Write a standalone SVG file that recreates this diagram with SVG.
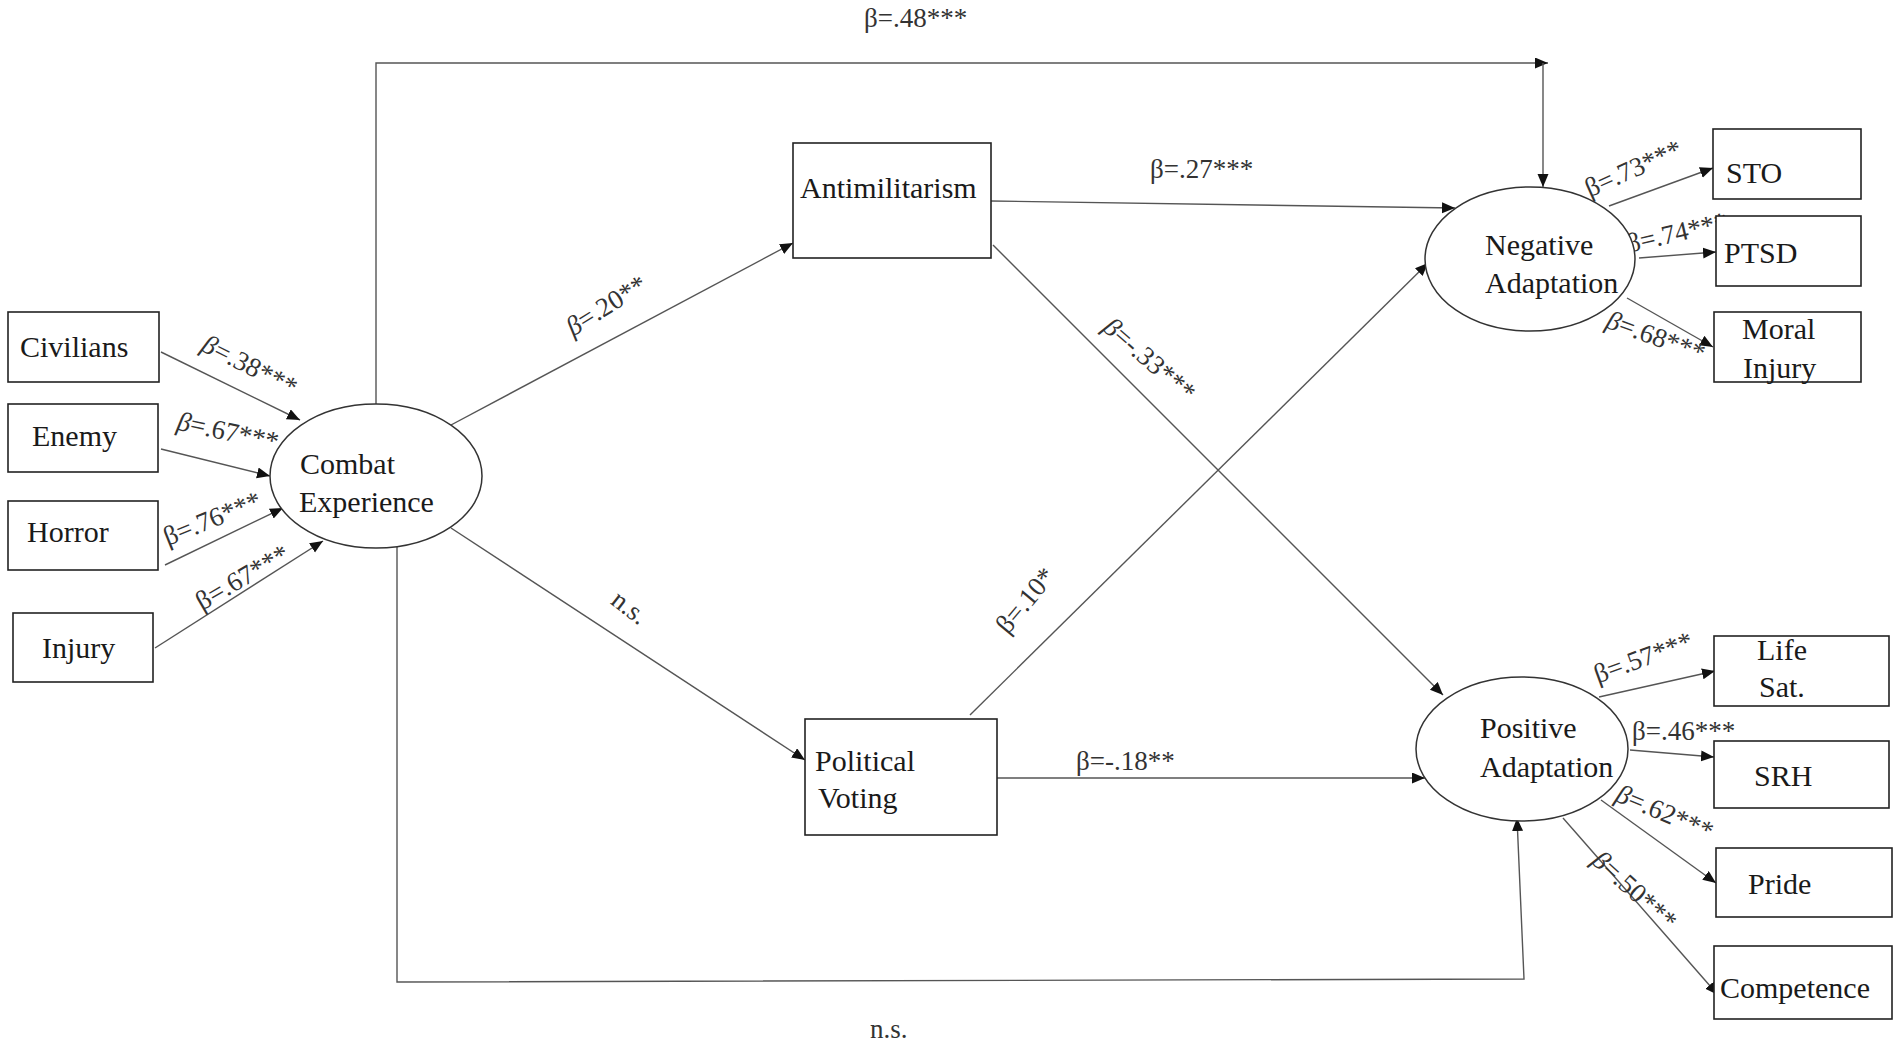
<svg xmlns="http://www.w3.org/2000/svg" width="1902" height="1048" viewBox="0 0 1902 1048">
<style>
.box{fill:#fff;stroke:#222;stroke-width:1.6}
.ell{fill:#fff;stroke:#333;stroke-width:1.5}
.nt{font-family:"Liberation Serif","Times New Roman",serif;font-size:30px;fill:#1a1a1a}
.lb{font-family:"Liberation Serif","Times New Roman",serif;font-size:27px;fill:#333}
.ln{fill:none;stroke:#555;stroke-width:1.4}
.it{font-style:italic}
</style>
<defs>
<marker id="ah" markerUnits="userSpaceOnUse" markerWidth="14" markerHeight="12" refX="13" refY="5.5" orient="auto">
<path d="M0,0 L13,5.5 L0,11 z" fill="#111"/>
</marker>
</defs>
<rect width="1902" height="1048" fill="#fff"/>

<g id="connectors">
<line class="ln" x1="161" y1="352" x2="300" y2="420" marker-end="url(#ah)"/>
<line class="ln" x1="161" y1="449" x2="270" y2="476" marker-end="url(#ah)"/>
<line class="ln" x1="165" y1="565" x2="283" y2="508" marker-end="url(#ah)"/>
<line class="ln" x1="155" y1="648" x2="323" y2="541" marker-end="url(#ah)"/>
<polyline class="ln" points="376,404 376,63 1548,63" marker-end="url(#ah)"/>
<line class="ln" x1="1543" y1="63" x2="1543" y2="187" marker-end="url(#ah)"/>
<line class="ln" x1="451" y1="425" x2="793" y2="243" marker-end="url(#ah)"/>
<line class="ln" x1="451" y1="528" x2="805" y2="760" marker-end="url(#ah)"/>
<line class="ln" x1="991" y1="201" x2="1455" y2="208" marker-end="url(#ah)"/>
<line class="ln" x1="993" y1="245" x2="1443" y2="695" marker-end="url(#ah)"/>
<line class="ln" x1="970" y1="715" x2="1428" y2="263" marker-end="url(#ah)"/>
<line class="ln" x1="997" y1="778" x2="1425" y2="778" marker-end="url(#ah)"/>
<polyline class="ln" points="397,547 397,982 1524,979 1517,818" marker-end="url(#ah)"/>
<line class="ln" x1="1609" y1="206" x2="1713" y2="168" marker-end="url(#ah)"/>
<line class="ln" x1="1639" y1="258" x2="1716" y2="252" marker-end="url(#ah)"/>
<line class="ln" x1="1627" y1="298" x2="1713" y2="347" marker-end="url(#ah)"/>
<line class="ln" x1="1599" y1="697" x2="1715" y2="671" marker-end="url(#ah)"/>
<line class="ln" x1="1630" y1="750" x2="1714" y2="757" marker-end="url(#ah)"/>
<line class="ln" x1="1601" y1="800" x2="1716" y2="883" marker-end="url(#ah)"/>
<line class="ln" x1="1563" y1="818" x2="1718" y2="995" marker-end="url(#ah)"/>
</g>

<g id="labels">
<text class="lb" x="250" y="365" dy="0.35em" text-anchor="middle" transform="rotate(27 250 365)"><tspan class="it">β</tspan>=.38***</text>
<text class="lb" x="228" y="431" dy="0.35em" text-anchor="middle" transform="rotate(12 228 431)"><tspan class="it">β</tspan>=.67***</text>
<text class="lb" x="212" y="518" dy="0.35em" text-anchor="middle" transform="rotate(-22 212 518)">β=.76***</text>
<text class="lb" x="242" y="577" dy="0.35em" text-anchor="middle" transform="rotate(-30 242 577)">β=.67***</text>
<text class="lb" x="606" y="305" dy="0.35em" text-anchor="middle" transform="rotate(-32 606 305)"><tspan class="it">β</tspan>=.20**</text>
<text class="lb" x="630" y="607" dy="0.35em" text-anchor="middle" transform="rotate(38 630 607)">n.s.</text>
<text class="lb" x="1150" y="359" dy="0.35em" text-anchor="middle" transform="rotate(41 1150 359)"><tspan class="it">β</tspan>=-.33***</text>
<text class="lb" x="1025" y="600" dy="0.35em" text-anchor="middle" transform="rotate(-50 1025 600)">β=.10*</text>
<text class="lb" x="864" y="27">β=.48***</text>
<text class="lb" x="1150" y="178">β=.27***</text>
<text class="lb" x="1076" y="770">β=-.18**</text>
<text class="lb" x="870" y="1038">n.s.</text>
<text class="lb" x="1633" y="168" dy="0.35em" text-anchor="middle" transform="rotate(-24 1633 168)">β=.73***</text>
<text class="lb" x="1677" y="232" dy="0.35em" text-anchor="middle" transform="rotate(-13 1677 232)">β=.74***</text>
<text class="lb" x="1656" y="336" dy="0.35em" text-anchor="middle" transform="rotate(20 1656 336)"><tspan class="it">β</tspan>=.68***</text>
<text class="lb" x="1643" y="657" dy="0.35em" text-anchor="middle" transform="rotate(-20 1643 657)">β=.57***</text>
<text class="lb" x="1632" y="740">β=.46***</text>
<text class="lb" x="1665" y="812" dy="0.35em" text-anchor="middle" transform="rotate(23 1665 812)"><tspan class="it">β</tspan>=.62***</text>
<text class="lb" x="1635" y="890" dy="0.35em" text-anchor="middle" transform="rotate(42 1635 890)"><tspan class="it">β</tspan>=.50***</text>
</g>

<g id="civilians"><rect class="box" x="8" y="312" width="151" height="70"/><text class="nt" x="20" y="357">Civilians</text></g>
<g id="enemy"><rect class="box" x="8" y="404" width="150" height="68"/><text class="nt" x="32" y="446">Enemy</text></g>
<g id="horror"><rect class="box" x="8" y="501" width="150" height="69"/><text class="nt" x="27" y="542">Horror</text></g>
<g id="injury"><rect class="box" x="13" y="613" width="140" height="69"/><text class="nt" x="42" y="658">Injury</text></g>
<g id="combat-experience"><ellipse class="ell" cx="376" cy="476" rx="106" ry="72"/><text class="nt" x="300" y="474">Combat</text><text class="nt" x="299" y="512">Experience</text></g>
<g id="antimilitarism"><rect class="box" x="793" y="143" width="198" height="115"/><text class="nt" x="800" y="198">Antimilitarism</text></g>
<g id="political-voting"><rect class="box" x="805" y="719" width="192" height="116"/><text class="nt" x="815" y="771">Political</text><text class="nt" x="818" y="808">Voting</text></g>
<g id="negative-adaptation"><ellipse class="ell" cx="1530" cy="259" rx="105" ry="72"/><text class="nt" x="1485" y="255">Negative</text><text class="nt" x="1485" y="293">Adaptation</text></g>
<g id="positive-adaptation"><ellipse class="ell" cx="1522" cy="749" rx="106" ry="72"/><text class="nt" x="1480" y="738">Positive</text><text class="nt" x="1480" y="777">Adaptation</text></g>
<g id="sto"><rect class="box" x="1713" y="129" width="148" height="70"/><text class="nt" x="1726" y="183">STO</text></g>
<g id="ptsd"><rect class="box" x="1716" y="216" width="145" height="70"/><text class="nt" x="1724" y="263">PTSD</text></g>
<g id="moral-injury"><rect class="box" x="1714" y="312" width="147" height="70"/><text class="nt" x="1742" y="339">Moral</text><text class="nt" x="1743" y="378">Injury</text></g>
<g id="life-sat"><rect class="box" x="1714" y="636" width="175" height="70"/><text class="nt" x="1757" y="660">Life</text><text class="nt" x="1759" y="697">Sat.</text></g>
<g id="srh"><rect class="box" x="1714" y="741" width="175" height="67"/><text class="nt" x="1754" y="786">SRH</text></g>
<g id="pride"><rect class="box" x="1716" y="848" width="176" height="69"/><text class="nt" x="1748" y="894">Pride</text></g>
<g id="competence"><rect class="box" x="1714" y="946" width="178" height="73"/><text class="nt" x="1720" y="998">Competence</text></g>
</svg>
